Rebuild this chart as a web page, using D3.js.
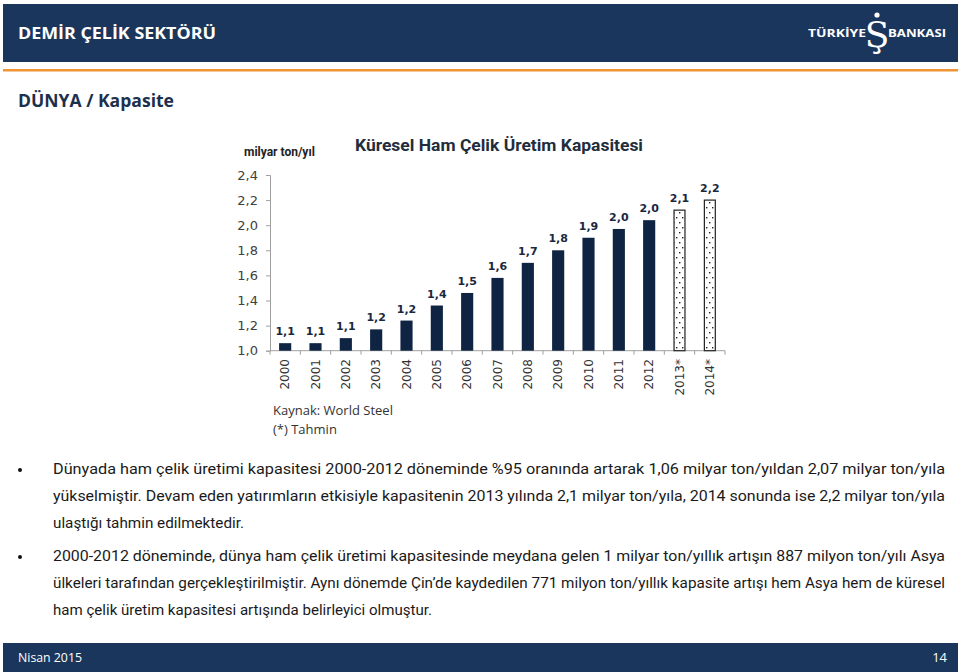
<!DOCTYPE html>
<html><head><meta charset="utf-8">
<script src="https://cdn.jsdelivr.net/npm/d3@7"></script>
<style>html,body{margin:0;padding:0;background:#fff;}svg{display:block;}</style>
</head><body>
<svg id="c" width="960" height="672"></svg>
<script>
const years = ["2000","2001","2002","2003","2004","2005","2006","2007","2008","2009","2010","2011","2012","2013*","2014*"];
const capacity = [1.06,1.06,1.10,1.17,1.24,1.36,1.46,1.58,1.70,1.80,1.90,1.97,2.04,2.12,2.20];
const estimated = [false,false,false,false,false,false,false,false,false,false,false,false,false,true,true];
const yTicks = [1.0,1.2,1.4,1.6,1.8,2.0,2.2,2.4];
const headerTitle = "DEMİR ÇELİK SEKTÖRÜ";
const sectionTitle = "DÜNYA / Kapasite";
const chartTitle = "Küresel Ham Çelik Üretim Kapasitesi";
const unitLabel = "milyar ton/yıl";
const sourceLines = ["Kaynak: World Steel","(*) Tahmin"];
const bullet1 = ["Dünyada ham çelik üretimi kapasitesi 2000-2012 döneminde %95 oranında artarak 1,06 milyar ton/yıldan 2,07 milyar ton/yıla",
"yükselmiştir. Devam eden yatırımların etkisiyle kapasitenin 2013 yılında 2,1 milyar ton/yıla, 2014 sonunda ise 2,2 milyar ton/yıla",
"ulaştığı tahmin edilmektedir."];
const bullet2 = ["2000-2012 döneminde, dünya ham çelik üretimi kapasitesinde meydana gelen 1 milyar ton/yıllık artışın 887 milyon ton/yılı Asya",
"ülkeleri tarafından gerçekleştirilmiştir. Aynı dönemde Çin’de kaydedilen 771 milyon ton/yıllık kapasite artışı hem Asya hem de küresel",
"ham çelik üretim kapasitesi artışında belirleyici olmuştur."];
const footerLeft = "Nisan 2015", footerRight = "14";

const svg = d3.select("#c");
const navy = "#1b365d", barColor = "#0f2342";
const trLocale = d3.formatLocale({decimal:",", thousands:".", grouping:[3], currency:["","₺"]});
const fmt = trLocale.format(".1f");

// header
svg.append("rect").attr("x",3).attr("y",4).attr("width",955).attr("height",58).attr("fill",navy);
svg.append("rect").attr("x",3).attr("y",69).attr("width",955).attr("height",2.5).attr("fill","#ee9433");
svg.append("text").attr("x",18).attr("y",39).attr("fill","#fff").attr("font-family","Open Sans").attr("font-weight","bold").attr("font-size",16.5)
  .attr("textLength",198).attr("lengthAdjust","spacingAndGlyphs").text(headerTitle);
// logo
svg.append("text").attr("x",808).attr("y",37).attr("fill","#fff").attr("font-family","Open Sans").attr("font-weight","bold").attr("font-size",11)
  .attr("textLength",58).attr("lengthAdjust","spacingAndGlyphs").text("TÜRKİYE");
svg.append("text").attr("x",888).attr("y",37).attr("fill","#fff").attr("font-family","Open Sans").attr("font-weight","bold").attr("font-size",11)
  .attr("textLength",58).attr("lengthAdjust","spacingAndGlyphs").text("BANKASI");
svg.append("text").attr("x",877).attr("y",47).attr("text-anchor","middle").attr("fill","#fff").attr("font-family","DejaVu Serif").attr("font-size",36).text("Ş");
svg.append("circle").attr("cx",877).attr("cy",15).attr("r",2.6).attr("fill","#fff");

svg.append("text").attr("x",18).attr("y",107).attr("fill","#1c2f4d").attr("font-family","Open Sans").attr("font-weight","bold").attr("font-size",17.5)
  .attr("textLength",156).attr("lengthAdjust","spacingAndGlyphs").text(sectionTitle);

// chart
const x = d3.scaleBand().domain(years).range([270,725]).paddingInner(0.6).paddingOuter(0.3);
const y = d3.scaleLinear().domain([1.0,2.4]).range([350.7,175]);

const defs = svg.append("defs");
const pat = defs.append("pattern").attr("id","dots").attr("patternUnits","userSpaceOnUse").attr("width",6).attr("height",10).attr("x",0).attr("y",0);
pat.append("rect").attr("width",6).attr("height",10).attr("fill","#fff");
pat.append("rect").attr("x",1).attr("y",2).attr("width",1.4).attr("height",1.4).attr("fill","#222");
pat.append("rect").attr("x",4).attr("y",7).attr("width",1.4).attr("height",1.4).attr("fill","#222");

const yAxis = d3.axisLeft(y).tickValues(yTicks).tickSize(4).tickPadding(8).tickFormat(fmt);
const gy = svg.append("g").attr("transform","translate(270,0)").call(yAxis);
gy.select(".domain").attr("stroke","#a0a0a0");
gy.selectAll(".tick line").attr("stroke","#a0a0a0");
gy.selectAll(".tick text").attr("font-family","DejaVu Sans").attr("font-size",13).attr("fill","#404040");

// x axis line + boundary ticks
svg.append("line").attr("x1",270).attr("x2",725).attr("y1",y(1.0)).attr("y2",y(1.0)).attr("stroke","#a0a0a0");
const gap = (x.step()-x.bandwidth())/2;
const bounds = years.map(d=>x(d)-gap).concat([x(years[years.length-1])+x.bandwidth()+gap]);
svg.selectAll(".xt").data(bounds).enter().append("line").attr("x1",d=>d).attr("x2",d=>d)
  .attr("y1",y(1.0)).attr("y2",y(1.0)+4).attr("stroke","#a0a0a0");

const data = years.map((d,i)=>({year:d,v:capacity[i],est:estimated[i]}));
svg.selectAll(".bar").data(data).enter().append("rect")
  .attr("x",d=>d.est? x(d.year)+0.6 : x(d.year))
  .attr("y",d=>y(d.v))
  .attr("width",d=>d.est? x.bandwidth()-1.2 : x.bandwidth())
  .attr("height",d=>y(1.0)-y(d.v))
  .attr("fill",d=>d.est?"url(#dots)":barColor)
  .attr("stroke",d=>d.est?"#222":"none").attr("stroke-width",1.2);

svg.selectAll(".lbl").data(data).enter().append("text")
  .attr("x",d=>x(d.year)+x.bandwidth()/2).attr("y",d=>y(d.v)-8)
  .attr("text-anchor","middle").attr("font-family","DejaVu Sans").attr("font-weight","bold").attr("font-size",11).attr("fill","#1a2740")
  .text(d=>fmt(d.v));

svg.selectAll(".xl").data(years).enter().append("text")
  .attr("transform",d=>`translate(${x(d)+x.bandwidth()/2},359) rotate(-90)`)
  .attr("text-anchor","end").attr("dy","0.35em").attr("font-family","DejaVu Sans").attr("font-size",12).attr("fill","#333")
  .text(d=>d);

svg.append("text").attr("x",244).attr("y",156).attr("font-family","Roboto").attr("font-weight","bold").attr("font-size",12).attr("fill","#222").text(unitLabel);
svg.append("text").attr("x",499).attr("y",151).attr("text-anchor","middle").attr("font-family","Roboto").attr("font-weight","bold").attr("font-size",16.5).attr("fill","#1f2d3d")
  .attr("textLength",288).attr("lengthAdjust","spacingAndGlyphs").text(chartTitle);

svg.selectAll(".src").data(sourceLines).enter().append("text")
  .attr("x",273).attr("y",(d,i)=>415+i*19).attr("font-family","Open Sans").attr("font-size",13).attr("fill","#333").text(d=>d);

// bullets
function para(lines, y0, lastW){
  lines.forEach((t,i)=>{
    const tx = svg.append("text").attr("x",53).attr("y",y0+i*27).attr("font-family","Roboto").attr("font-size",15).attr("fill","#1a1a1a").text(t);
    tx.attr("textLength", i<lines.length-1 ? 892 : lastW).attr("lengthAdjust","spacingAndGlyphs");
  });
  svg.append("circle").attr("cx",20).attr("cy",y0-4).attr("r",2).attr("fill","#111");
}
para(bullet1, 474, 191);
para(bullet2, 561, 379);

// footer
svg.append("rect").attr("x",3).attr("y",643).attr("width",955).attr("height",29).attr("fill",navy);
svg.append("text").attr("x",18).attr("y",662).attr("fill","#fff").attr("font-family","Open Sans").attr("font-size",13)
  .attr("textLength",64).attr("lengthAdjust","spacingAndGlyphs").text(footerLeft);
svg.append("text").attr("x",947).attr("y",662).attr("text-anchor","end").attr("fill","#fff").attr("font-family","Open Sans").attr("font-size",13).text(footerRight);
</script>
</body></html>
